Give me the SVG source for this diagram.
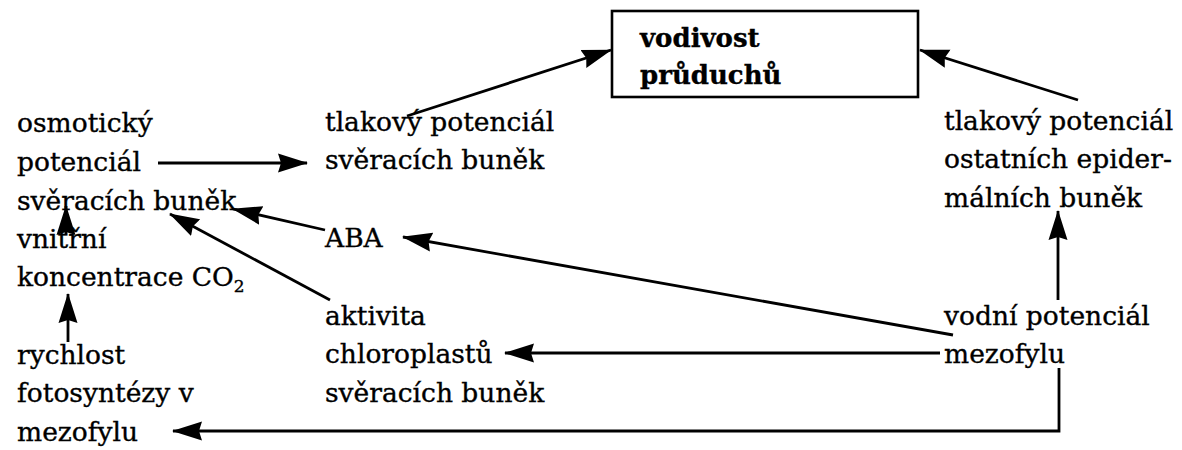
<svg xmlns="http://www.w3.org/2000/svg" width="1182" height="450" viewBox="0 0 1182 450">
<style>
text{font-family:"DejaVu Serif","Liberation Serif",serif;font-size:26.5px;fill:#000;stroke:#000;stroke-width:0.35}
.b{font-weight:bold;font-size:26px}
.c{stroke:#000;stroke-width:2.8;fill:none}
.box{fill:#fff;stroke:#000;stroke-width:2.6}
</style>
<defs>
<marker id="ah" markerUnits="userSpaceOnUse" markerWidth="30" markerHeight="22" viewBox="0 0 30 22" refX="29" refY="11" orient="auto">
<path d="M0,1.5 L30,11 L0,20.5 L3,11 Z" fill="#000"/>
</marker>
</defs>
<rect width="1182" height="450" fill="#fff"/>
<g id="connectors">
<path class="c" d="M158,163 H307" marker-end="url(#ah)"/>
<path class="c" d="M407,116 L611,50" marker-end="url(#ah)"/>
<path class="c" d="M1078,100 L920,50" marker-end="url(#ah)"/>
<path class="c" d="M325,230 L233,209" marker-end="url(#ah)"/>
<path class="c" d="M330,300 L170,214" marker-end="url(#ah)"/>
<path class="c" d="M66,234 V206" marker-end="url(#ah)"/>
<path class="c" d="M68,342 V294" marker-end="url(#ah)"/>
<path class="c" d="M940,353 H505" marker-end="url(#ah)"/>
<path class="c" d="M953,335 L403,237" marker-end="url(#ah)"/>
<path class="c" d="M1058,300 V211" marker-end="url(#ah)"/>
<path class="c" d="M1059,368 V431 H173" marker-end="url(#ah)"/>
</g>
<g id="vodivost">
<rect class="box" x="612" y="11" width="306" height="86"/>
<text class="b" x="640" y="47">vodivost</text>
<text class="b" x="640" y="84">průduchů</text>
</g>
<g id="osmoticky">
<text x="17" y="132">osmotický</text>
<text x="17" y="171">potenciál</text>
<text x="17" y="210">svěracích buněk</text>
</g>
<g id="co2">
<text x="17" y="248">vnitřní</text>
<text x="17" y="286">koncentrace CO<tspan font-size="17" dy="6">2</tspan></text>
</g>
<g id="fotosynteza">
<text x="17" y="364">rychlost</text>
<text x="17" y="402">fotosyntézy v</text>
<text x="17" y="441">mezofylu</text>
</g>
<g id="tlak-sverace">
<text x="325" y="131">tlakový potenciál</text>
<text x="325" y="169">svěracích buněk</text>
</g>
<g id="aba">
<text x="325" y="247">ABA</text>
</g>
<g id="chloroplasty">
<text x="325" y="325">aktivita</text>
<text x="325" y="363">chloroplastů</text>
<text x="325" y="402">svěracích buněk</text>
</g>
<g id="tlak-epiderm">
<text x="944" y="130">tlakový potenciál</text>
<text x="944" y="168">ostatních epider-</text>
<text x="944" y="207">málních buněk</text>
</g>
<g id="vodni">
<text x="944" y="325">vodní potenciál</text>
<text x="944" y="363">mezofylu</text>
</g>
</svg>
